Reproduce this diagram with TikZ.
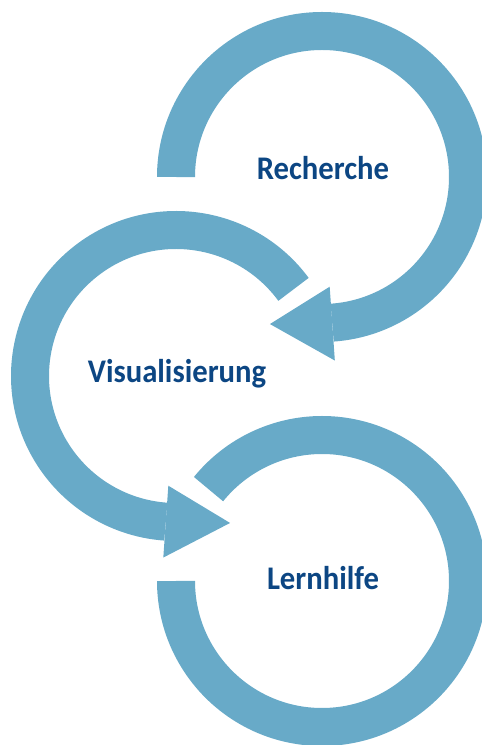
\documentclass[tikz,border=0pt]{standalone}
\usepackage{fontspec}
\setmainfont{Carlito}[FakeStretch=0.93]
\usepackage{tikz}
\usetikzlibrary{calc}

\definecolor{ringblue}{RGB}{104,170,200}
\definecolor{textblue}{RGB}{12,70,131}

\begin{document}
\begin{tikzpicture}[x=1pt, y=1pt,
	ring/.style={draw=ringblue, line width=38pt},
	head/.style={fill=ringblue},
	label/.style={font=\bfseries\fontsize{33}{33}\selectfont, text=textblue, anchor=base, inner sep=0pt}]
	\useasboundingbox (0,0) rectangle (482,745);
    % Add the centres of the cycles
		\coordinate (c1) at (322,568);
		\coordinate (c2) at (176,369);
		\coordinate (c3) at (322,164);
    % Add the labels
		\node[label] (rech) at (323,565) {Recherche};
		\node[label] (visu) at (177,362) {Visualisierung};
		\node[label] (lern) at (323,155) {Lernhilfe};

    % Add the rings
		\draw[ring] (c1) ++(180:146) arc[start angle=180, end angle=-86, radius=146];
		\draw[ring] (c2) ++(36.4:146) arc[start angle=36.4, end angle=266, radius=146];
		\draw[ring] (c3) ++(180:146) arc[start angle=180, end angle=501, radius=146];

    % Add the arrow heads
		\fill[head] ($(c1)+(-86:110)$) -- ($(c1)+(-86:184)$) -- ($(c1)+(-109.5:156)$) -- cycle;
		\fill[head] ($(c2)+(266:110)$) -- ($(c2)+(266:182)$) -- ($(c2)+(290.2:156.6)$) -- cycle;
\end{tikzpicture}
\end{document}
